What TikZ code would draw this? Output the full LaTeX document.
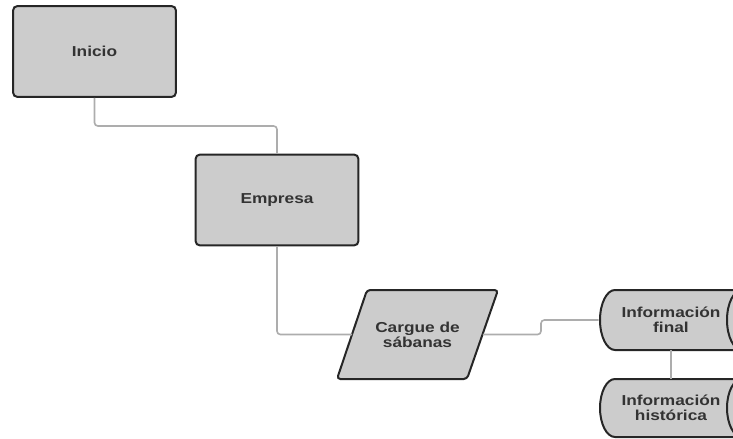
\documentclass[tikz,border=0pt]{standalone}
\usepackage{fontspec}
\newfontfamily\boxfont[FakeStretch=1.2]{Liberation Sans}
\definecolor{boxfill}{HTML}{CCCCCC}
\definecolor{boxline}{HTML}{262626}
\definecolor{linkgray}{HTML}{ADADAD}
\definecolor{labelgray}{HTML}{333333}
\tikzset{
  boxtext/.style={inner sep=0pt,font=\boxfont\bfseries\fontsize{10.8}{11.25}\selectfont,
    text=labelgray,align=center},
  procbox/.style={boxtext,draw=boxline,fill=boxfill,line width=1.5pt,rounded corners=3pt,
    minimum width=122pt,minimum height=68pt},
  shapeline/.style={draw=boxline,fill=boxfill,line width=1.5pt,rounded corners=2.5pt},
  conn/.style={draw=linkgray,line width=1.2pt,rounded corners=2.5pt}
}
\begin{document}
\begin{tikzpicture}[x=0.75pt,y=-0.75pt]
	\clip (0,0) rectangle (733,439);
	% parallelogram and storage cylinders, cut off at the right edge
	\path[shapeline] (367,290)--(498,290)--(467,379)--(337,379)--cycle;
	\path[shapeline,rounded corners=0pt] (760,290)--(615,290) arc (270:90:15 and 30)--(760,350);
	\draw[boxline,line width=1.5pt] (742,290) arc (270:90:15 and 30);
	\path[shapeline,rounded corners=0pt] (760,379)--(615,379) arc (270:90:15 and 29)--(760,437);
	\draw[boxline,line width=1.5pt] (742,379) arc (270:90:15 and 29);
	\node[procbox](ini) at (94.5,51.5){Inicio};
	\node[procbox](emp) at (277,200){Empresa};
	\node[boxtext,minimum width=97.5pt,minimum height=40pt](carg) at (417.5,334.5){Cargue de\\s\'abanas};
	\node[boxtext,minimum width=108pt,minimum height=45pt](inf1) at (671,320){Informaci\'on\\final};
	\node[boxtext,minimum width=108pt,minimum height=43.5pt](inf2) at (671,408){Informaci\'on\\hist\'orica};
	\coordinate (bend) at (185,126);
	\coordinate (jog) at (541,327);
	\draw[conn](ini.south)|-(bend)-|(emp.north);
	\draw[conn](emp.south)|-(carg.west);
	\draw[conn](carg.east)-|(jog)|-(inf1.west);
	\draw[conn](inf1.south)--(inf2.north);
\end{tikzpicture}
\end{document}
